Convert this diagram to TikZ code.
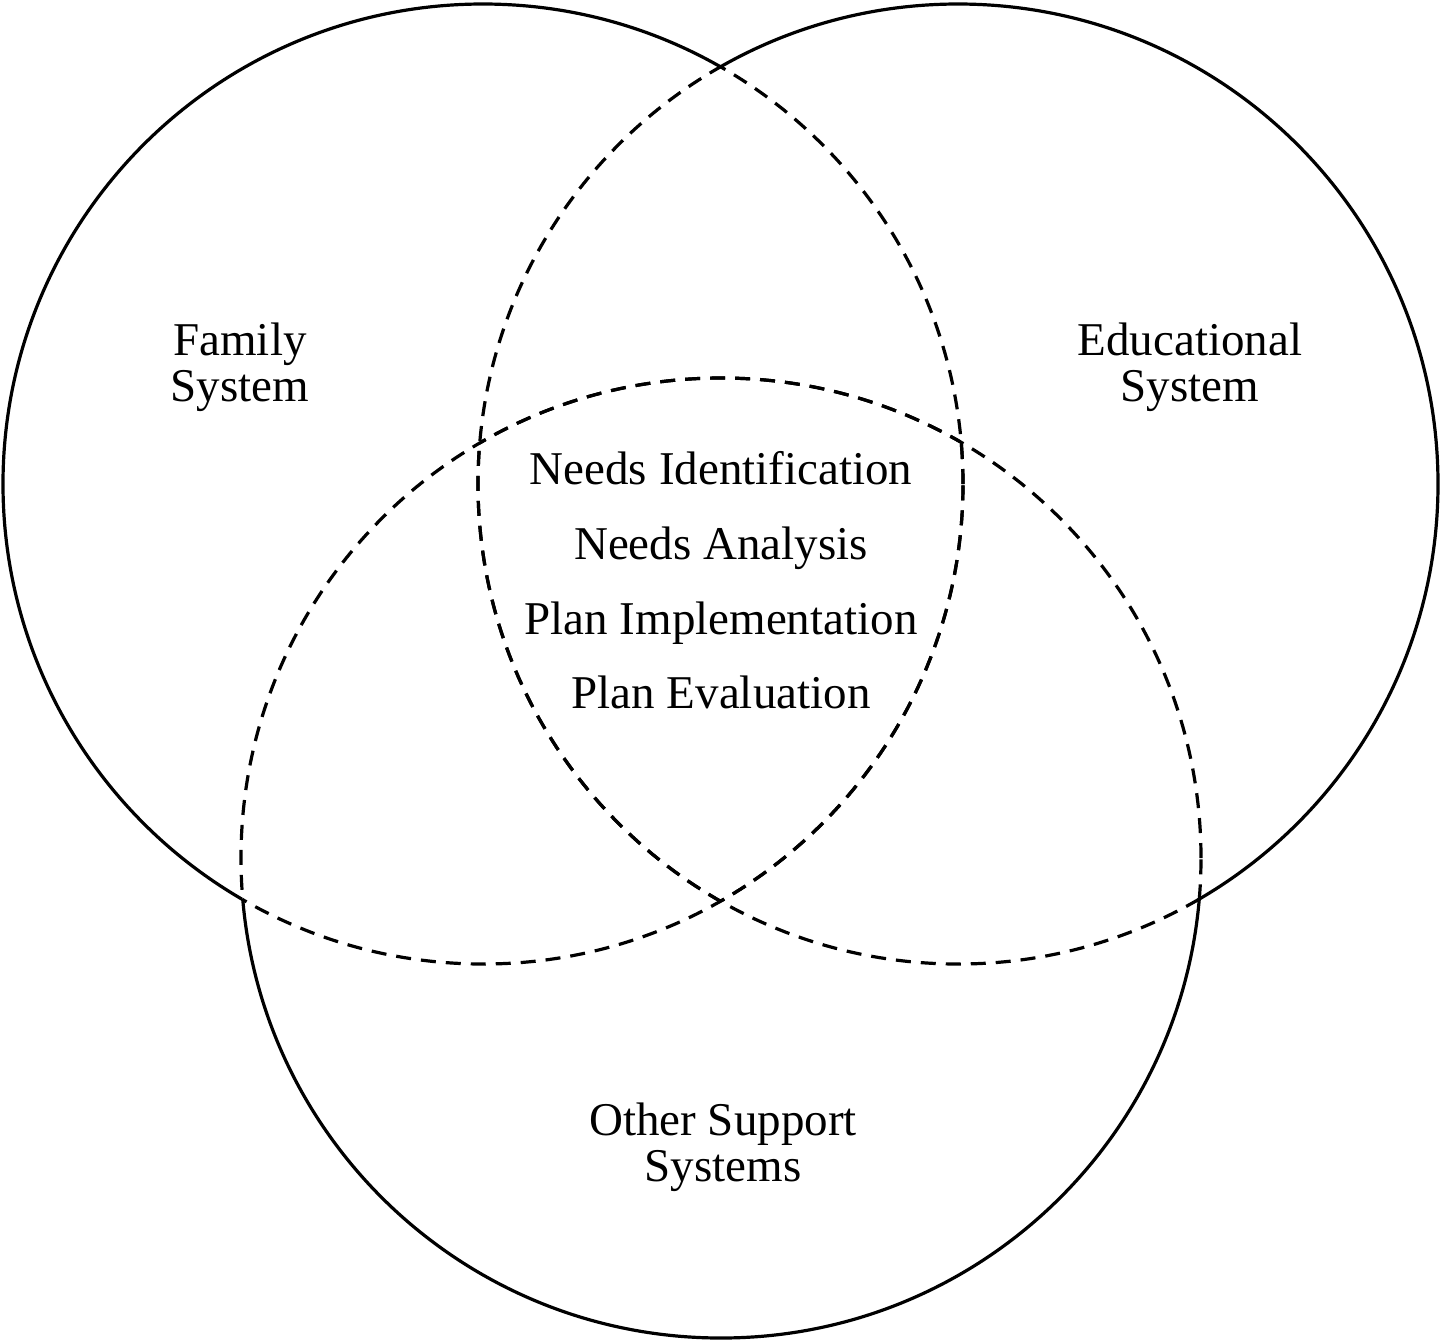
\documentclass[tikz,border=0pt]{standalone}
\usepackage{fontspec}
\setmainfont{Liberation Serif}
\begin{document}
\begin{tikzpicture}[x=0.5pt,y=-0.5pt,
  ring/.style={line width=1.6pt},
  dashring/.style={line width=1.6pt,dash pattern=on 7.5pt off 5pt},
  lbl/.style={anchor=base,inner sep=0pt,font=\fontsize{23.5pt}{27pt}\selectfont},
  stage/.style={anchor=base,inner sep=0pt,font=\fontsize{23.5pt}{27pt}\selectfont}]
\useasboundingbox (0,0) rectangle (1441,1341);
\def\R{240pt}
\coordinate (cF) at (483,484);
\coordinate (cE) at (958,484);
\coordinate (cO) at (721,858);
% solid outer parts
\begin{scope}[even odd rule]
  \clip (-20,-20) rectangle (1461,1361) (cE) circle[radius=\R];
  \clip (-20,-20) rectangle (1461,1361) (cO) circle[radius=\R];
  \draw[ring] (cF) circle[radius=\R];
\end{scope}
\begin{scope}[even odd rule]
  \clip (-20,-20) rectangle (1461,1361) (cF) circle[radius=\R];
  \clip (-20,-20) rectangle (1461,1361) (cO) circle[radius=\R];
  \draw[ring] (cE) circle[radius=\R];
\end{scope}
\begin{scope}[even odd rule]
  \clip (-20,-20) rectangle (1461,1361) (cF) circle[radius=\R];
  \clip (-20,-20) rectangle (1461,1361) (cE) circle[radius=\R];
  \draw[ring] (cO) circle[radius=\R];
\end{scope}
% dashed inner parts
\begin{scope}
  \clip (cE) circle[radius=\R];
  \draw[dashring] (cF) circle[radius=\R];
\end{scope}
\begin{scope}
  \clip (cO) circle[radius=\R];
  \draw[dashring] (cF) circle[radius=\R];
\end{scope}
\begin{scope}
  \clip (cF) circle[radius=\R];
  \draw[dashring] (cE) circle[radius=\R];
\end{scope}
\begin{scope}
  \clip (cO) circle[radius=\R];
  \draw[dashring] (cE) circle[radius=\R];
\end{scope}
\begin{scope}
  \clip (cF) circle[radius=\R];
  \draw[dashring] (cO) circle[radius=\R];
\end{scope}
\begin{scope}
  \clip (cE) circle[radius=\R];
  \draw[dashring] (cO) circle[radius=\R];
\end{scope}
% labels
\node[lbl] (fam1) at (240,355) {Family};
\node[lbl] (fam2) at (240,401) {System};
\node[lbl] (edu1) at (1190,355) {Educational};
\node[lbl] (edu2) at (1190,401) {System};
\node[lbl] (oth1) at (723,1135) {Other Support};
\node[lbl] (oth2) at (723,1181) {Systems};
\node[stage] (s1) at (721,484) {Needs Identification};
\node[stage] (s2) at (721,559) {Needs Analysis};
\node[stage] (s3) at (721,634) {Plan Implementation};
\node[stage] (s4) at (721,708) {Plan Evaluation};
\end{tikzpicture}
\end{document}
